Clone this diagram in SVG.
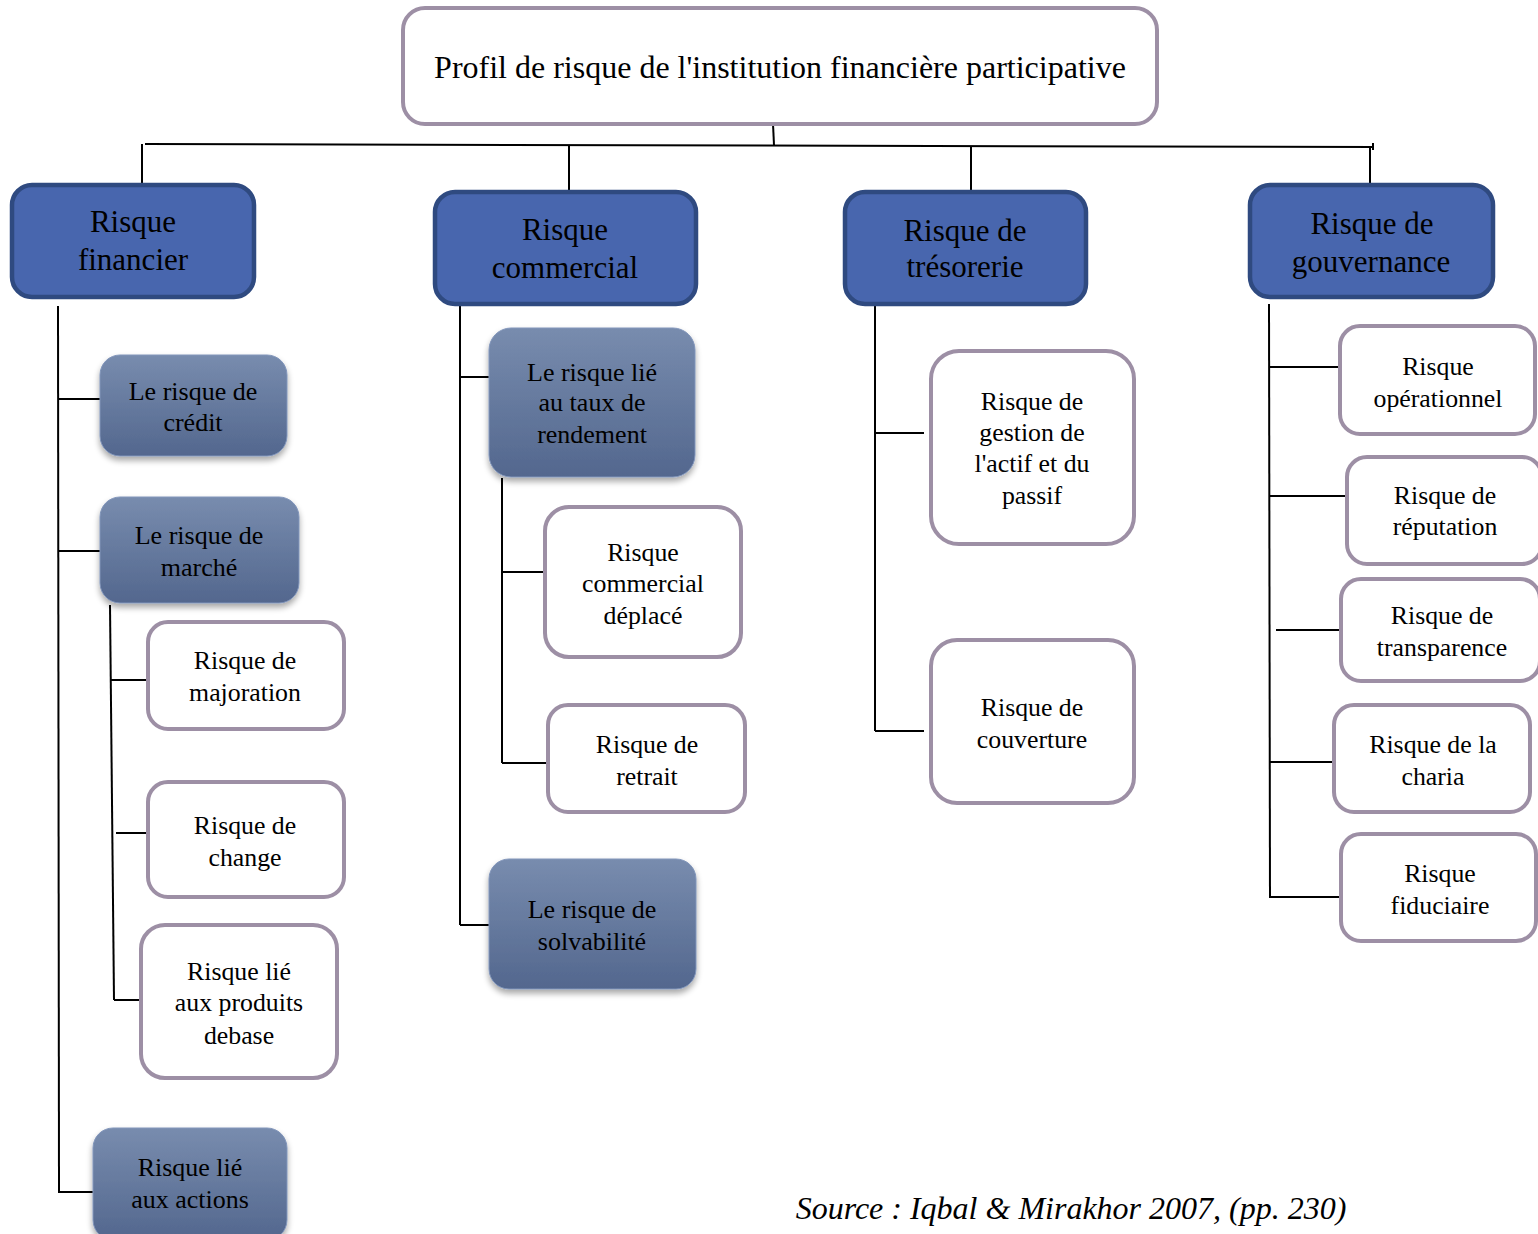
<svg xmlns="http://www.w3.org/2000/svg" width="1538" height="1234" viewBox="0 0 1538 1234">
  <defs>
    <linearGradient id="gradSub" x1="0" y1="0" x2="0" y2="1">
      <stop offset="0" stop-color="#788CAE"/>
      <stop offset="1" stop-color="#53678E"/>
    </linearGradient>
    <filter id="shadow" x="-10%" y="-10%" width="120%" height="125%">
      <feGaussianBlur in="SourceAlpha" stdDeviation="3"/>
      <feOffset dx="0" dy="4" result="b"/>
      <feComponentTransfer><feFuncA type="linear" slope="0.35"/></feComponentTransfer>
      <feMerge><feMergeNode/><feMergeNode in="SourceGraphic"/></feMerge>
    </filter>
  </defs>
  <style>
    text { font-family: "Liberation Serif", "Times New Roman", serif; fill: #000; text-anchor: middle; }
    .main { fill: #4866AE; stroke: #2F4A80; stroke-width: 4.5; }
    .sub { fill: url(#gradSub); stroke: #8195BA; stroke-width: 1; filter: url(#shadow); }
    .leaf { fill: #fff; stroke: #9D8FA5; stroke-width: 4; }
    .t-main { font-size: 31px; }
    .t-sub { font-size: 26px; }
    .t-leaf { font-size: 25.8px; }
    #links line { stroke: #000; stroke-width: 2; }
  </style>

  <!-- connectors -->
  <g id="links">
    <line x1="773" y1="124" x2="774" y2="145"/>
    <line x1="145" y1="144" x2="1374" y2="147"/>
    <line x1="1373" y1="143" x2="1373" y2="150"/>
    <line x1="142" y1="144" x2="142" y2="185"/>
    <line x1="569" y1="145" x2="569" y2="192"/>
    <line x1="971" y1="146" x2="971" y2="192"/>
    <line x1="1370" y1="147" x2="1370" y2="185"/>

    <!-- Risque financier -->
    <line x1="58" y1="306" x2="59" y2="1193"/>
    <line x1="58" y1="399" x2="100" y2="399"/>
    <line x1="58" y1="551" x2="100" y2="551"/>
    <line x1="58" y1="1192" x2="93" y2="1192"/>
    <line x1="110" y1="605" x2="114" y2="1000"/>
    <line x1="110" y1="680" x2="148" y2="680"/>
    <line x1="116" y1="833" x2="148" y2="833"/>
    <line x1="114" y1="1000" x2="141" y2="1000"/>

    <!-- Risque commercial -->
    <line x1="460" y1="305" x2="460" y2="925"/>
    <line x1="460" y1="377" x2="489" y2="377"/>
    <line x1="460" y1="925" x2="489" y2="925"/>
    <line x1="502" y1="478" x2="502" y2="763"/>
    <line x1="502" y1="572" x2="545" y2="572"/>
    <line x1="502" y1="763" x2="548" y2="763"/>

    <!-- Risque de trésorerie -->
    <line x1="875" y1="305" x2="875" y2="731"/>
    <line x1="875" y1="433" x2="924" y2="433"/>
    <line x1="875" y1="731" x2="924" y2="731"/>

    <!-- Risque de gouvernance -->
    <line x1="1269" y1="304" x2="1270" y2="898"/>
    <line x1="1269" y1="367" x2="1340" y2="367"/>
    <line x1="1269" y1="496" x2="1347" y2="496"/>
    <line x1="1276" y1="630" x2="1341" y2="630"/>
    <line x1="1269" y1="762" x2="1334" y2="762"/>
    <line x1="1270" y1="897" x2="1341" y2="897"/>
  </g>

  <!-- root -->
  <g id="root">
    <rect class="leaf" x="403" y="8" width="754" height="116" rx="22"/>
    <text x="780" y="78" style="font-size:32px">Profil de risque de l'institution financière participative</text>
  </g>

  <!-- main categories -->
  <g id="risque-financier">
    <rect class="main" x="12" y="185" width="242" height="112" rx="20"/>
    <text class="t-main" x="133" y="232">Risque</text>
    <text class="t-main" x="133" y="270">financier</text>
  </g>
  <g id="risque-commercial">
    <rect class="main" x="435" y="192" width="261" height="112" rx="20"/>
    <text class="t-main" x="565" y="240">Risque</text>
    <text class="t-main" x="565" y="278">commercial</text>
  </g>
  <g id="risque-tresorerie">
    <rect class="main" x="845" y="192" width="241" height="112" rx="20"/>
    <text class="t-main" x="965" y="241">Risque de</text>
    <text class="t-main" x="965" y="277">trésorerie</text>
  </g>
  <g id="risque-gouvernance">
    <rect class="main" x="1250" y="185" width="243" height="112" rx="20"/>
    <text class="t-main" x="1372" y="234">Risque de</text>
    <text class="t-main" x="1371" y="272">gouvernance</text>
  </g>

  <!-- Risque financier branch -->
  <g id="risque-credit">
    <rect class="sub" x="100" y="355" width="187" height="101" rx="20"/>
    <text class="t-sub" x="193" y="400">Le risque de</text>
    <text class="t-sub" x="193" y="431">crédit</text>
  </g>
  <g id="risque-marche">
    <rect class="sub" x="100" y="497" width="199" height="106" rx="20"/>
    <text class="t-sub" x="199" y="544">Le risque de</text>
    <text class="t-sub" x="199" y="576">marché</text>
  </g>
  <g id="risque-majoration">
    <rect class="leaf" x="148" y="622" width="196" height="107" rx="20"/>
    <text class="t-leaf" x="245" y="669">Risque de</text>
    <text class="t-leaf" x="245" y="701">majoration</text>
  </g>
  <g id="risque-change">
    <rect class="leaf" x="148" y="782" width="196" height="115" rx="20"/>
    <text class="t-leaf" x="245" y="834">Risque de</text>
    <text class="t-leaf" x="245" y="866">change</text>
  </g>
  <g id="risque-produits-base">
    <rect class="leaf" x="141" y="925" width="196" height="153" rx="24"/>
    <text class="t-leaf" x="239" y="980">Risque lié</text>
    <text class="t-leaf" x="239" y="1011">aux produits</text>
    <text class="t-leaf" x="239" y="1044">debase</text>
  </g>
  <g id="risque-actions">
    <rect class="sub" x="93" y="1128" width="194" height="112" rx="20"/>
    <text class="t-sub" x="190" y="1176">Risque lié</text>
    <text class="t-sub" x="190" y="1208">aux actions</text>
  </g>

  <!-- Risque commercial branch -->
  <g id="risque-taux-rendement">
    <rect class="sub" x="489" y="328" width="206" height="149" rx="22"/>
    <text class="t-sub" x="592" y="381">Le risque lié</text>
    <text class="t-sub" x="592" y="411">au taux de</text>
    <text class="t-sub" x="592" y="443">rendement</text>
  </g>
  <g id="risque-commercial-deplace">
    <rect class="leaf" x="545" y="507" width="196" height="150" rx="24"/>
    <text class="t-leaf" x="643" y="561">Risque</text>
    <text class="t-leaf" x="643" y="592">commercial</text>
    <text class="t-leaf" x="643" y="624">déplacé</text>
  </g>
  <g id="risque-retrait">
    <rect class="leaf" x="548" y="705" width="197" height="107" rx="20"/>
    <text class="t-leaf" x="647" y="753">Risque de</text>
    <text class="t-leaf" x="647" y="785">retrait</text>
  </g>
  <g id="risque-solvabilite">
    <rect class="sub" x="489" y="859" width="207" height="130" rx="20"/>
    <text class="t-sub" x="592" y="918">Le risque de</text>
    <text class="t-sub" x="592" y="950">solvabilité</text>
  </g>

  <!-- Risque de trésorerie branch -->
  <g id="risque-actif-passif">
    <rect class="leaf" x="931" y="351" width="203" height="193" rx="28"/>
    <text class="t-leaf" x="1032" y="410">Risque de</text>
    <text class="t-leaf" x="1032" y="441">gestion de</text>
    <text class="t-leaf" x="1032" y="472">l'actif et du</text>
    <text class="t-leaf" x="1032" y="504">passif</text>
  </g>
  <g id="risque-couverture">
    <rect class="leaf" x="931" y="640" width="203" height="163" rx="26"/>
    <text class="t-leaf" x="1032" y="716">Risque de</text>
    <text class="t-leaf" x="1032" y="748">couverture</text>
  </g>

  <!-- Risque de gouvernance branch -->
  <g id="risque-operationnel">
    <rect class="leaf" x="1340" y="326" width="195" height="108" rx="20"/>
    <text class="t-leaf" x="1438" y="375">Risque</text>
    <text class="t-leaf" x="1438" y="407">opérationnel</text>
  </g>
  <g id="risque-reputation">
    <rect class="leaf" x="1347" y="457" width="195" height="107" rx="20"/>
    <text class="t-leaf" x="1445" y="504">Risque de</text>
    <text class="t-leaf" x="1445" y="535">réputation</text>
  </g>
  <g id="risque-transparence">
    <rect class="leaf" x="1341" y="579" width="199" height="102" rx="20"/>
    <text class="t-leaf" x="1442" y="624">Risque de</text>
    <text class="t-leaf" x="1442" y="656">transparence</text>
  </g>
  <g id="risque-charia">
    <rect class="leaf" x="1334" y="705" width="196" height="107" rx="20"/>
    <text class="t-leaf" x="1433" y="753">Risque de la</text>
    <text class="t-leaf" x="1433" y="785">charia</text>
  </g>
  <g id="risque-fiduciaire">
    <rect class="leaf" x="1341" y="834" width="195" height="107" rx="20"/>
    <text class="t-leaf" x="1440" y="882">Risque</text>
    <text class="t-leaf" x="1440" y="914">fiduciaire</text>
  </g>

  <!-- source note -->
  <text x="1071" y="1219" style="font-size:32px;font-style:italic">Source : Iqbal &amp; Mirakhor 2007, (pp. 230)</text>
</svg>
